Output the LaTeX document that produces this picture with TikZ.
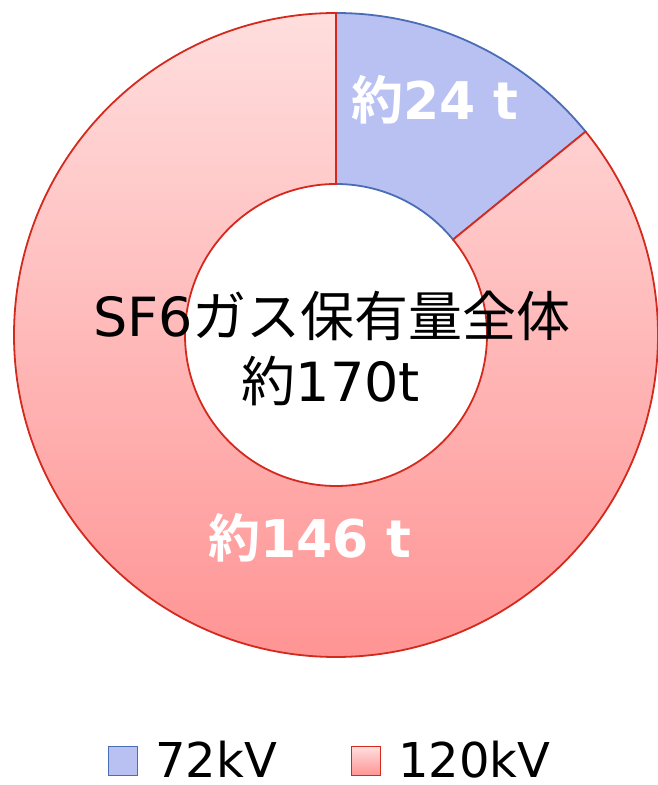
\documentclass[tikz,border=0pt]{standalone}
\usepackage{fontspec}
\setmainfont{DejaVu Sans}
\newfontfamily\jpfont{Noto Sans CJK JP}[BoldFont={* Bold}]
\definecolor{blueFill}{HTML}{B8C1F2}
\definecolor{blueEdge}{HTML}{4A6DB5}
\definecolor{redTop}{HTML}{FFDEDE}
\definecolor{redBottom}{HTML}{FF9494}
\definecolor{redEdge}{HTML}{D42A1E}
\tikzset{
  bluepart/.style={fill=blueFill, draw=blueEdge, line width=1.8pt},
  redpart/.style={top color=redTop, bottom color=redBottom, draw=redEdge, line width=1.8pt},
  centertext/.style={anchor=base, font=\fontsize{54}{60}\selectfont, inner sep=0pt},
  slicetext/.style={anchor=base, text=white, font=\fontsize{52}{60}\selectfont\bfseries, inner sep=0pt},
  legendbox/.style={minimum size=29pt, inner sep=0pt, line width=1.8pt},
  legendtext/.style={anchor=base west, font=\fontsize{48}{56}\selectfont, inner sep=0pt}
}
\begin{document}
\begin{tikzpicture}[x=1pt, y=1pt]
    \useasboundingbox (0,0) rectangle (657,785);
    \def\rout{322}
    \def\rin{151}
    \def\cut{39.18}
    \coordinate (c) at (336,450);
    % Ring
    \path[bluepart] ([shift={(\cut:\rin)}]c) -- ([shift={(\cut:\rout)}]c)
      arc[start angle=\cut, end angle=90, radius=\rout]
      -- ([shift={(90:\rin)}]c)
      arc[start angle=90, end angle=\cut, radius=\rin] -- cycle;
    \path[redpart] ([shift={(90:\rin)}]c) -- ([shift={(90:\rout)}]c)
      arc[start angle=90, end angle=360+\cut, radius=\rout]
      -- ([shift={(\cut:\rin)}]c)
      arc[start angle=360+\cut, end angle=90, radius=\rin] -- cycle;
    % Nodes
    \node[centertext] (total) at (332,448) {SF6{\jpfont ガス保有量全体}};
    \node[centertext] (amount) at (331,383) {{\jpfont 約}170t};
    \node[slicetext] (kv72) at (435,665) {{\jpfont\bfseries 約}24 t};
    \node[slicetext] (kv120) at (310,227) {{\jpfont\bfseries 約}146 t};
    % Legend
    \node[legendbox, fill=blueFill, draw=blueEdge] (key72) at (123,24) {};
    \node[legendtext] (lab72) at (155,8) {72kV};
    \node[legendbox, top color=redTop, bottom color=redBottom, draw=redEdge] (key120) at (366,24) {};
    \node[legendtext] (lab120) at (398,8) {120kV};
\end{tikzpicture}
\end{document}
